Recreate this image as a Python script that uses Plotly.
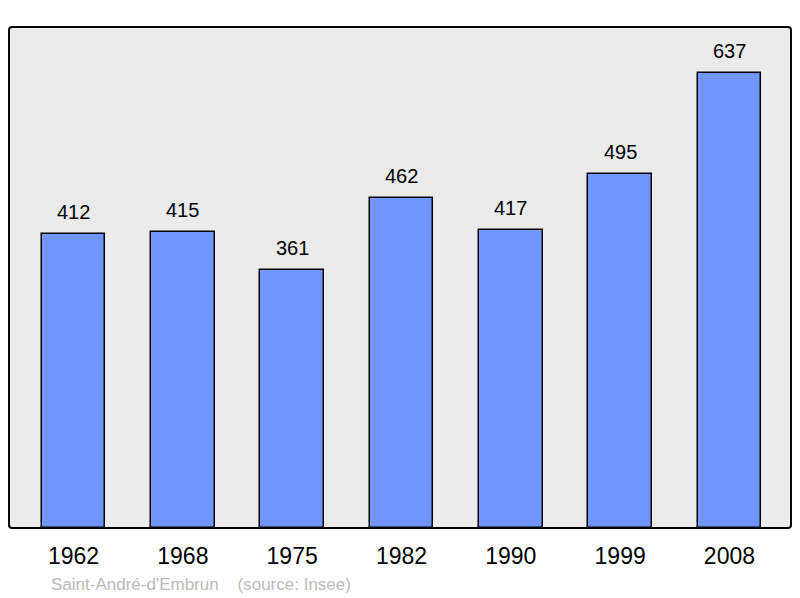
import plotly.graph_objects as go

years = ["1962", "1968", "1975", "1982", "1990", "1999", "2008"]
population = [412, 415, 361, 462, 417, 495, 637]
caption = "Saint-André-d'Embrun    (source: Insee)"

fig = go.Figure()
fig.add_trace(go.Bar(
    x=list(range(len(years))), y=population, width=0.58,
    marker=dict(color="#7097ff", line=dict(color="#000000", width=1.5)),
    hoverinfo="skip",
))

for i, v in enumerate(population):
    fig.add_annotation(x=i, y=v, text=str(v), showarrow=False,
                       yanchor="bottom", yshift=9,
                       font=dict(family="Liberation Sans, Arial", size=20, color="#000"))

fig.add_annotation(xref="paper", yref="paper", x=0.0515, y=0, yshift=-56,
                   xanchor="left", yanchor="middle", showarrow=False,
                   text=caption.replace("    ", "&nbsp;&nbsp;&nbsp;&nbsp;"),
                   font=dict(family="Liberation Sans, Arial", size=17, color="#bbbbbb"))

# rounded frame
fig.add_shape(type="path", xref="paper", yref="paper", layer="above",
              path="M 0.004,0 L 0.996,0 Q 1,0 1,0.006 L 1,0.994 Q 1,1 0.996,1 L 0.004,1 Q 0,1 0,0.994 L 0,0.006 Q 0,0 0.004,0 Z",
              line=dict(color="#000000", width=2))

fig.update_layout(
    width=792, height=590,
    margin=dict(l=1, r=9, t=19, b=70),
    paper_bgcolor="#ffffff", plot_bgcolor="#ebebeb",
    showlegend=False, bargap=0,
    font=dict(family="Liberation Sans, Arial", color="#000"),
    xaxis=dict(range=[-0.59, 6.563], tickmode="array",
               tickvals=list(range(len(years))), ticktext=years,
               showgrid=False, zeroline=False, showline=False,
               ticks="", ticklabelstandoff=12,
               tickfont=dict(family="Liberation Sans, Arial", size=23, color="#000")),
    yaxis=dict(range=[0, 701.4], showgrid=False, zeroline=False,
               showticklabels=False, showline=False, ticks=""),
)

fig.write_html("out.html")
